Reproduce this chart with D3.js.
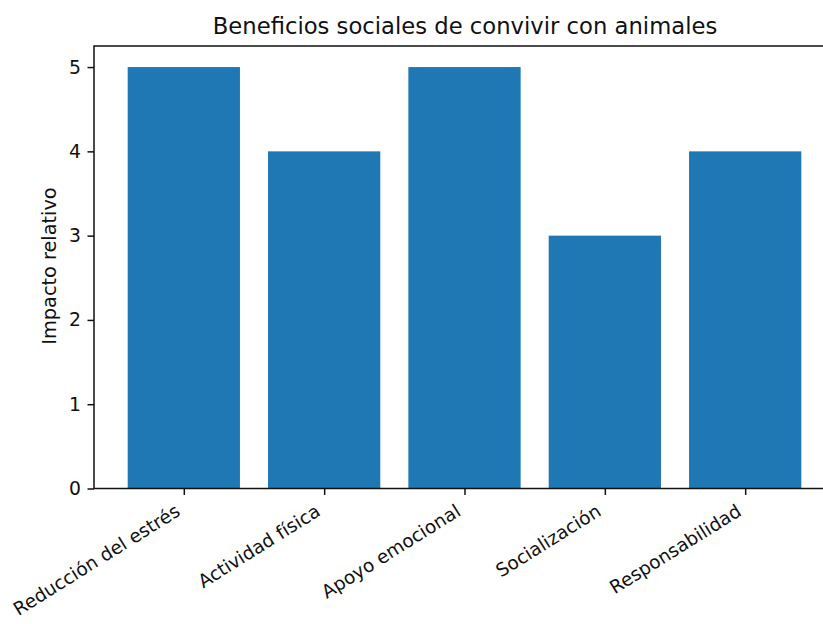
<!DOCTYPE html>
<html>
<head>
<meta charset="utf-8">
<script src="https://cdn.jsdelivr.net/npm/d3@7"></script>
<style>
  body { margin: 0; background: #fff; }
  text { font-family: "DejaVu Sans", sans-serif; fill: #111; }
  .axis path, .axis line { stroke: #111; stroke-width: 1.5; }
</style>
</head>
<body>
<svg id="chart" width="823" height="624"></svg>
<script>
// data
var categories = ["Reducción del estrés", "Actividad física", "Apoyo emocional", "Socialización", "Responsabilidad"];
var values = [5, 4, 5, 3, 4];
var yTicks = [0, 1, 2, 3, 4, 5];

var svg = d3.select("#chart"),
    margin = {top: 46, left: 94, bottom: 488.5},
    barWidth = 0.8,
    fs = 18.5;

// matplotlib-like limits: bars span -0.4..4.4 plus 5% margins
var x = d3.scaleLinear()
    .domain([-0.64, 4.64])
    .range([margin.left, 835]);
var y = d3.scaleLinear()
    .domain([0, 5.25])
    .range([margin.bottom, margin.top]);

var g = svg.append("g");

g.selectAll(".bar")
    .data(values)
    .enter()
        .append("rect")
        .attr("class", "bar")
        .attr("x", function(d, i) { return x(i - barWidth / 2); })
        .attr("width", function(d, i) { return x(i + barWidth / 2) - x(i - barWidth / 2); })
        .attr("y", function(d) { return y(d); })
        .attr("height", function(d) { return y(0) - y(d); })
        .attr("fill", "#1f77b4");

// frame
g.append("rect")
    .attr("x", margin.left)
    .attr("y", margin.top)
    .attr("width", x.range()[1] - margin.left)
    .attr("height", margin.bottom - margin.top)
    .attr("fill", "none")
    .attr("stroke", "#111")
    .attr("stroke-width", 1.5);

// y axis
var yAxis = g.append("g")
    .attr("class", "axis")
    .attr("transform", "translate(" + margin.left + ",0)")
    .call(d3.axisLeft(y).tickValues(yTicks).tickSize(6.5).tickPadding(6.5).tickFormat(d3.format("d")));
yAxis.select(".domain").remove();
yAxis.selectAll("text").style("font-size", "18.8px");

// x axis
var xAxis = g.append("g")
    .attr("class", "axis")
    .attr("transform", "translate(0," + margin.bottom + ")")
    .call(d3.axisBottom(x)
        .tickValues(d3.range(categories.length))
        .tickSize(6.5)
        .tickFormat(function(i) { return categories[i]; }));
xAxis.select(".domain").remove();
xAxis.selectAll("text")
    .style("font-size", fs + "px")
    .attr("text-anchor", "end")
    .attr("dy", null)
    .attr("y", 0)
    .attr("transform", "translate(-3,26) rotate(-32)");

// title and axis label
svg.append("text")
    .attr("x", 465)
    .attr("y", 34)
    .attr("text-anchor", "middle")
    .style("font-size", "22.7px")
    .text("Beneficios sociales de convivir con animales");

svg.append("text")
    .attr("transform", "translate(56,266) rotate(-90)")
    .attr("text-anchor", "middle")
    .style("font-size", "19.3px")
    .text("Impacto relativo");
</script>
</body>
</html>
